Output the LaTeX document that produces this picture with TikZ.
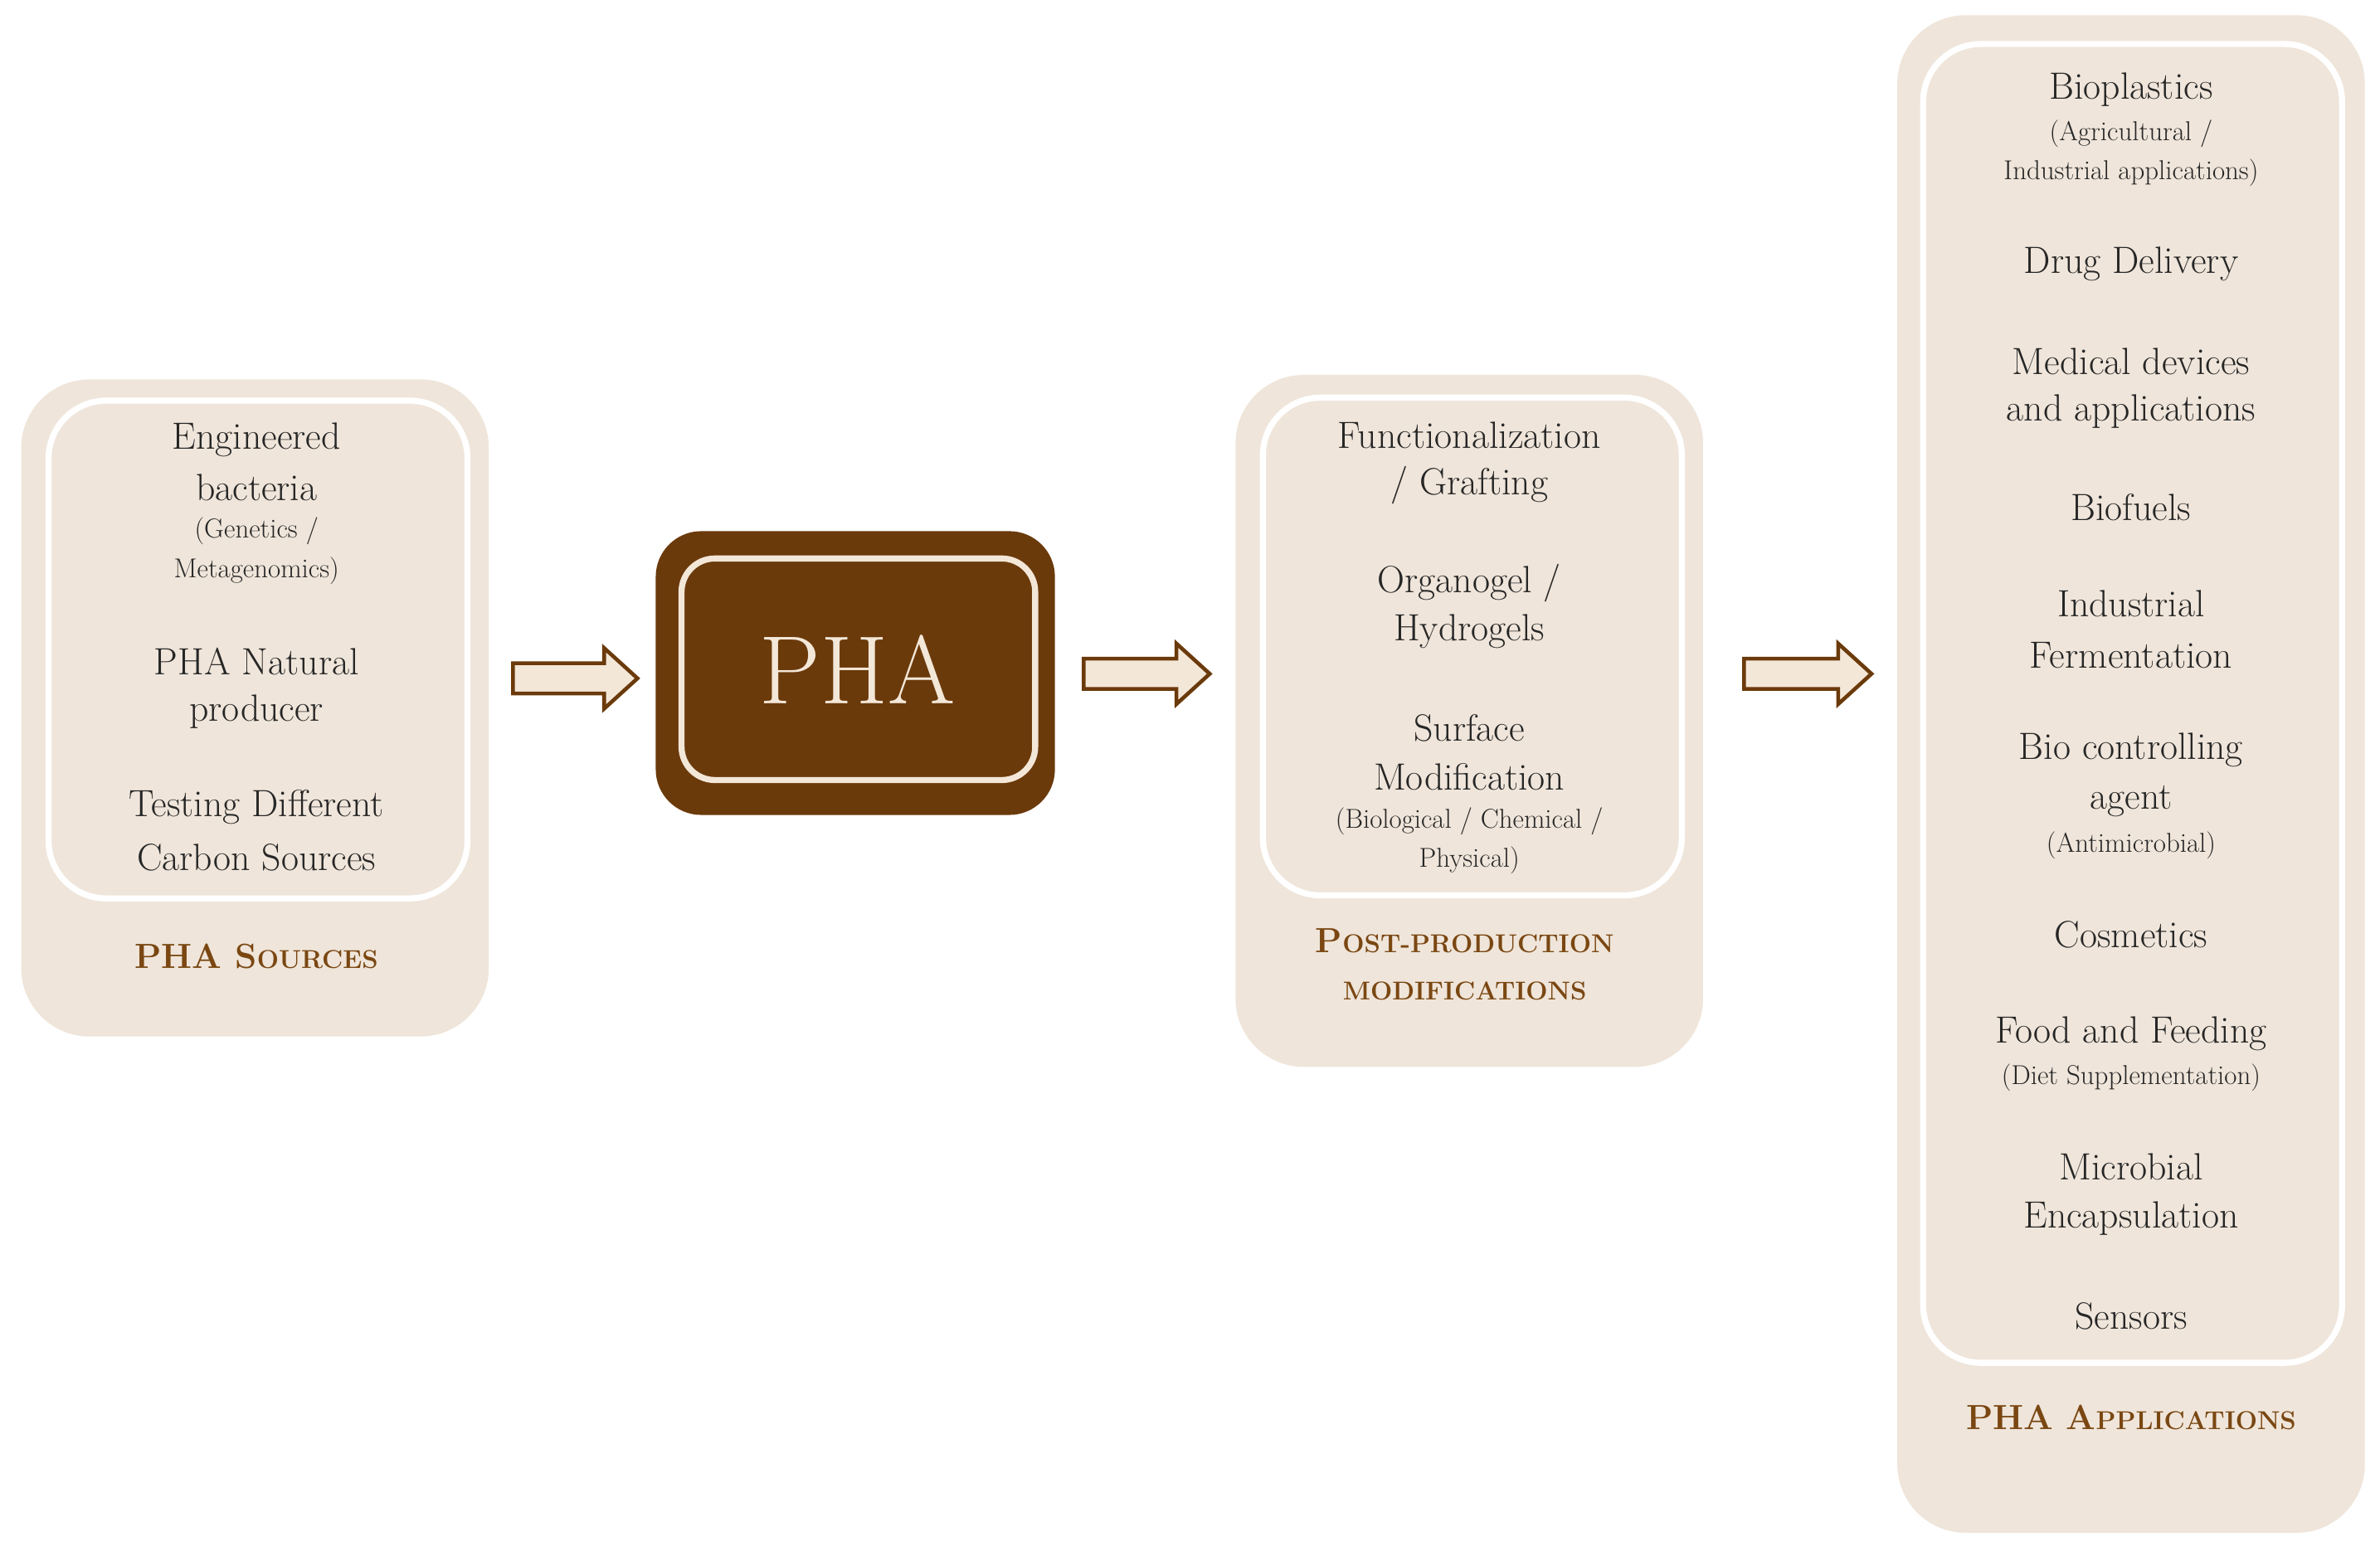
\documentclass[tikz,border=0pt]{standalone}
\begin{document}
\definecolor{beige}{HTML}{EFE5DA}
\definecolor{dbrown}{HTML}{6B3A0B}
\definecolor{lbrown}{HTML}{7A4712}
\definecolor{afill}{HTML}{F3E7D8}
\newcommand{\mysc}[2]{#1{\fontsize{17}{20}\selectfont #2}}
\begin{tikzpicture}[x=1pt,y=-1pt,
  outer/.style={fill=beige,rounded corners=45pt},
  inner/.style={draw=white,line width=4pt,rounded corners=38pt},
  t/.style={font=\fontsize{25}{30}\selectfont,text=black!85,inner sep=0pt},
  s/.style={font=\fontsize{18}{22}\selectfont,text=black!85,inner sep=0pt},
  lab/.style={font=\fontsize{23}{28}\selectfont\bfseries,text=lbrown,inner sep=0pt},
  arr/.style={draw=dbrown,fill=afill,line width=2.5pt,line join=miter}]
\useasboundingbox (0,0) rectangle (1568,1022);
% left
\fill[outer] (14,250) rectangle (322,683);
\draw[inner] (32,264) rectangle (308,592);
\node[t] (l1) at (169,290) {Engineered};
\node[t] (l2) at (169,321) {bacteria};
\node[s] (l3) at (169,350) {(Genetics /};
\node[s] (l4) at (169,376) {Metagenomics)};
\node[t] (l5) at (169,436) {PHA Natural};
\node[t] (l6) at (169,469) {producer};
\node[t] (l7) at (169,532) {Testing Different};
\node[t] (l8) at (169,565) {Carbon Sources};
\node[lab] (l9) at (169,630) {\mysc{PHA S}{OURCES}};
% arrows
\draw[arr] (338,437)--(398,437)--(398,427)--(420,447)--(398,467)--(398,457)--(338,457)--cycle;
\draw[arr] (714,434)--(775,434)--(775,424)--(797,444)--(775,464)--(775,454)--(714,454)--cycle;
\draw[arr] (1149,434)--(1211,434)--(1211,424)--(1233,444)--(1211,464)--(1211,454)--(1149,454)--cycle;
% PHA
\fill[dbrown,rounded corners=30pt] (432,350) rectangle (695,537);
\draw[afill,line width=4pt,rounded corners=22pt] (449,368) rectangle (682,514);
\node[font=\fontsize{64}{70}\selectfont,text=afill] (pha) at (565,441) {PHA};
% middle
\fill[outer] (814,247) rectangle (1122,703);
\draw[inner] (832,262) rectangle (1108,590);
\node[t] (m1) at (968,287) {Functionalization};
\node[t] (m2) at (968,320) {/ Grafting};
\node[t] (m3) at (968,384) {Organogel /};
\node[t] (m4) at (968,416) {Hydrogels};
\node[t] (m5) at (968,480) {Surface};
\node[t] (m6) at (968,512) {Modification};
\node[s] (m7) at (968,541) {(Biological / Chemical /};
\node[s] (m8) at (968,567) {Physical)};
\node[lab] (m9) at (965,620) {\mysc{P}{OST-PRODUCTION}};
\node[lab] (m10) at (965,653) {\mysc{}{MODIFICATIONS}};
% right
\fill[outer] (1250,10) rectangle (1558,1010);
\draw[inner] (1267,29) rectangle (1543,898);
\node[t] at (1404,59) {Bioplastics};
\node[s] at (1404,88) {(Agricultural /};
\node[s] at (1404,114) {Industrial applications)};
\node[t] at (1404,174) {Drug Delivery};
\node[t] at (1404,238) {Medical devices};
\node[t] at (1404,271) {and applications};
\node[t] at (1404,334) {Biofuels};
\node[t] at (1404,398) {Industrial};
\node[t] at (1404,432) {Fermentation};
\node[t] at (1404,494) {Bio controlling};
\node[t] at (1404,528) {agent};
\node[s] at (1404,557) {(Antimicrobial)};
\node[t] at (1404,616) {Cosmetics};
\node[t] at (1404,681) {Food and Feeding};
\node[s] at (1404,710) {(Diet Supplementation)};
\node[t] at (1404,769) {Microbial};
\node[t] at (1404,803) {Encapsulation};
\node[t] at (1404,867) {Sensors};
\node[lab] at (1404,934) {\mysc{PHA A}{PPLICATIONS}};
\end{tikzpicture}
\end{document}
